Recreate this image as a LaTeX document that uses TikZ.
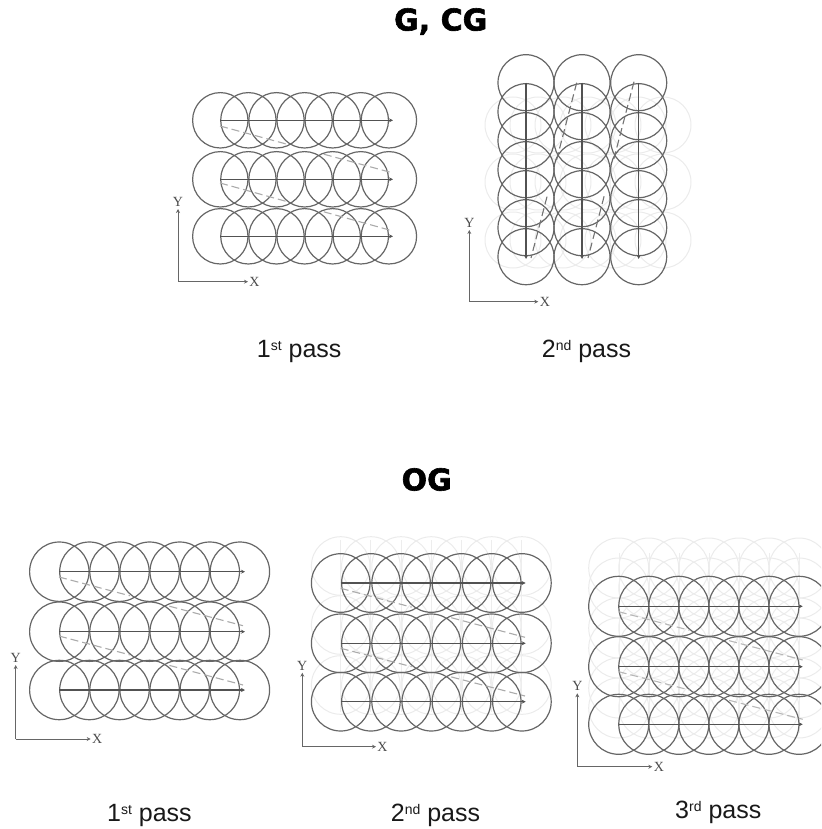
\documentclass[tikz,border=0pt]{standalone}
\usepackage{fontspec}
\setmainfont{Liberation Sans}
\newfontfamily\titlefont[FakeBold=2]{DejaVu Sans Bold}
\newfontfamily\serifaxis{Liberation Serif}
\usetikzlibrary{arrows.meta,calc}
\tikzset{
  tool/.style={draw=black!60,line width=1.2pt},
  ghost/.style={draw=black!8,line width=1pt},
  ghostline/.style={draw=black!7,line width=1pt},
  path line/.style={draw=black!68,line width=1.2pt,-{Stealth[length=4pt,width=4pt]}},
  shift line/.style={draw=black!33,line width=1.1pt,dash pattern=on 8pt off 4pt},
  axis line/.style={draw=black!60,line width=1pt,-{Stealth[length=4pt,width=4pt]}},
  axis label/.style={font=\serifaxis\fontsize{14}{14}\selectfont,text=black!70,inner sep=0pt},
  pass label/.style={font=\fontsize{25}{25}\selectfont,anchor=base west,inner sep=0pt,text=black!90},
  title label/.style={font=\titlefont\fontsize{30}{30}\selectfont,inner sep=0pt,text=black},
}
% horizontal rows: prefix, x0, step, radius, x end, y1,y2,y3
\newcommand{\hrows}[8]{%
  \foreach \yy [count=\r] in {#6,#7,#8}{%
    \foreach \k in {0,...,6}{\node[tool,circle,minimum size=#4*2pt,inner sep=0pt] at ({#2+\k*#3},\yy) {};}%
    \coordinate (#1s\r) at (#2,\yy);
    \coordinate (#1e\r) at (#5,\yy);
    \draw[path line] (#1s\r) -- (#1e\r);
  }}
% two-part shift line
\newcommand{\shift}[6]{%
  \coordinate (#1a) at (#2,#3);
  \coordinate (#1b) at (#4,#5);
  \draw[shift line,#6] (#1a) -- ($(#1a)!.385!(#1b)$);
  \draw[shift line,#6] ($(#1a)!.6!(#1b)$) -- (#1b);}
% ghost row
\newcommand{\ghostrow}[4]{%
  \foreach \k in {0,...,6}{\node[ghost,circle,minimum size=#3*2pt,inner sep=0pt] at ({#1+\k*#2},#4) {};}}
% axes: prefix, ox, oy, ytop, xend
\newcommand{\axes}[5]{%
  \coordinate (#1o) at (#2,#3);
  \node[axis label] (#1y) at (#2,#4-7) {Y};
  \node[axis label] (#1x) at (#5+6.5,#3) {X};
  \draw[axis line] (#1o) -- (#2,#4);
  \draw[axis line] (#1o) -- (#5,#3);}
\newcommand{\sps}[1]{\raisebox{7pt}{\fontsize{14}{14}\selectfont #1}}
\begin{document}
\begin{tikzpicture}[x=1pt,y=-1pt]
\useasboundingbox (0,0) rectangle (821,829);
\clip (0,0) rectangle (821,829);
% titles
\node[title label] (t1) at (440.7,21.5) {G, CG};
\node[title label] (t2) at (426.7,479.5) {OG};
% Panel A
\hrows{a}{220.3}{28.1}{27.7}{393}{120.3}{179.3}{236.3}
\shift{aa}{220}{126}{393}{173}{}
\shift{ab}{220}{183}{393}{231}{}
\axes{ax}{178}{281.7}{209}{248}
% Panel B
\foreach \yy in {125,182,240}{\ghostrow{513}{25}{28}{\yy}}
\foreach \xx [count=\c] in {526,582,638.7}{
  \foreach \k in {0,...,6}{\node[tool,circle,minimum size=56pt,inner sep=0pt] at (\xx,{82.7+\k*29}) {};}
  \coordinate (bs\c) at (\xx,82.7);
  \coordinate (be\c) at (\xx,259);
  \draw[path line] (bs\c) -- (be\c);
}
\coordinate (ba) at (576.7,82.7);
\coordinate (bb) at (531,258);
\coordinate (bc) at (634,81.7);
\coordinate (bd) at (588,258);
\draw[shift line,draw=black!55] (ba) -- ($(ba)!.46!(bb)$);
\draw[shift line,draw=black!55] ($(ba)!.65!(bb)$) -- (bb);
\draw[shift line,draw=black!55] (bc) -- ($(bc)!.46!(bd)$);
\draw[shift line,draw=black!55] ($(bc)!.65!(bd)$) -- (bd);
\axes{bx}{469.3}{301.7}{230}{538.3}
% Panel E (OG 1st)
\hrows{e}{59.3}{30.1}{29.7}{245}{571.7}{631.7}{690}
\shift{ea}{59}{577}{243}{625.7}{}
\shift{eb}{59}{636}{243}{685}{}
\axes{ex}{15.7}{739}{665}{90.7}
% Panel C (OG 2nd)
\foreach \yy in {566,625,685}{\ghostrow{340.7}{30.2}{29.3}{\yy}}
\foreach \k in {0,...,6}{
  \coordinate (cv\k a) at ({340.7+\k*30.2},540);
  \coordinate (cv\k b) at ({340.7+\k*30.2},712);
  \draw[ghostline] (cv\k a) -- (cv\k b);}
\hrows{c}{340.7}{30.2}{29.3}{525.7}{583}{643.3}{701.7}
\shift{ca}{340.7}{588.3}{525}{637.3}{}
\shift{cb}{340.7}{648.3}{525}{696}{}
\axes{cx}{302.3}{746.7}{672.7}{376}
% Panel D (OG 3rd)
\foreach \yy in {568,588,628,648,688,708}{\ghostrow{618.7}{30.05}{30}{\yy}}
\foreach \k in {0,...,6}{
  \coordinate (dv\k a) at ({619.5+\k*30.05},553);
  \coordinate (dv\k b) at ({619.5+\k*30.05},733);
  \draw[ghostline] (dv\k a) -- (dv\k b);}
\hrows{d}{618.7}{30.05}{30}{802.7}{606.3}{666.7}{724.3}
\shift{da}{618.7}{611.7}{802.7}{660}{draw=black!28}
\shift{db}{618.7}{671.7}{802.7}{719.3}{draw=black!28}
\axes{dx}{577.3}{766.7}{693.3}{652.3}
% pass labels
\node[pass label] (p1) at (256.7,357) {1\sps{st} pass};
\node[pass label] (p2) at (541.7,357) {2\sps{nd} pass};
\node[pass label] (p3) at (107,821) {1\sps{st} pass};
\node[pass label] (p4) at (390.7,821) {2\sps{nd} pass};
\node[pass label] (p5) at (675,818) {3\sps{rd} pass};
\end{tikzpicture}
\end{document}
